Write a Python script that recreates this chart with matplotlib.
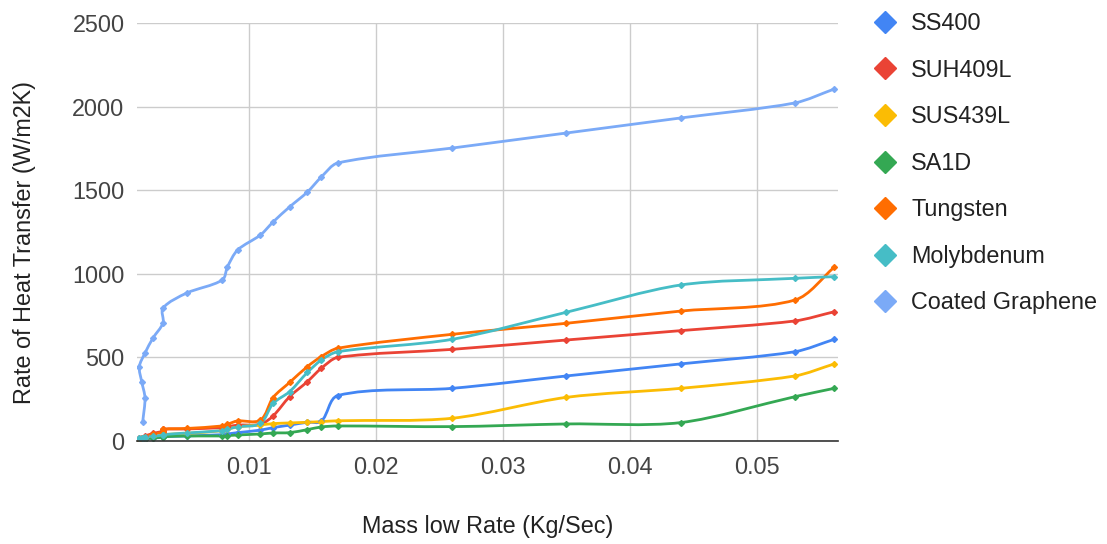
import numpy as np
import matplotlib
matplotlib.use("Agg")
import matplotlib.pyplot as plt
from matplotlib.path import Path
from matplotlib.patches import PathPatch
from matplotlib.lines import Line2D

plt.rcParams['font.family'] = ['Liberation Sans', 'DejaVu Sans']

# Data (rows are in the sheet's order, x is not sorted)
mass_flow = [0.00163, 0.00181, 0.00155, 0.00136, 0.00181, 0.00244, 0.00323, 0.00323,
             0.0051, 0.0079, 0.0083, 0.0091, 0.0109, 0.0119, 0.0132, 0.0146,
             0.0157, 0.0170, 0.026, 0.035, 0.044, 0.053, 0.0561]

ss400 = [5, 10, 8, 5, 12, 18, 22, 25, 30, 38, 42, 50, 65, 80, 95, 112,
         118, 272, 315, 389, 461, 534, 608]
suh409l = [15, 25, 20, 15, 30, 45, 60, 70, 72, 80, 85, 95, 100, 150, 265, 355,
           435, 500, 548, 604, 660, 718, 773]
sus439l = [10, 15, 12, 10, 18, 25, 32, 38, 45, 62, 70, 85, 96, 104, 108, 112,
           116, 121, 136, 261, 315, 389, 461]
sa1d = [8, 12, 10, 8, 14, 18, 24, 26, 30, 30, 32, 36, 42, 48, 50, 68,
        84, 90, 86, 102, 110, 265, 315]
tungsten = [10, 20, 15, 10, 25, 40, 55, 70, 75, 90, 100, 120, 125, 260, 350, 445,
            505, 555, 638, 704, 777, 843, 1039]
molybdenum = [15, 20, 18, 15, 22, 28, 35, 38, 48, 62, 70, 85, 105, 225, 295, 410,
              484, 534, 608, 770, 933, 973, 983]
coated_graphene = [115, 257, 355, 444, 526, 616, 706, 795, 885, 963, 1041, 1142, 1232, 1310, 1400, 1489,
                   1579, 1663, 1752, 1842, 1932, 2022, 2105]

series_names = ['SS400', 'SUH409L', 'SUS439L', 'SA1D', 'Tungsten', 'Molybdenum', 'Coated Graphene']
series_values = [ss400, suh409l, sus439l, sa1d, tungsten, molybdenum, coated_graphene]
colors = ['#4285F4', '#EA4335', '#FBBC04', '#34A853', '#FF6D01', '#46BDC6', '#7BAAF7']

y_ticks = [0, 500, 1000, 1500, 2000, 2500]
x_ticks = [0.01, 0.02, 0.03, 0.04, 0.05]

fs = 16.8

fig = plt.figure(figsize=(11.07, 5.44), dpi=100)
ax = fig.add_axes([137 / 1107, 1 - 441 / 544, 701 / 1107, 418 / 544])
ax.set_xlim(0.00118, 0.0564)
ax.set_ylim(0, 2500)


# smooth line through the points, tangents worked out in screen space
def smooth_path(xs, ys, k=0.3):
    pts = ax.transData.transform(np.column_stack([xs, ys]))
    n = len(pts)
    tang = []
    for i in range(n):
        d = pts[min(i + 1, n - 1)] - pts[max(i - 1, 0)]
        L = np.hypot(d[0], d[1])
        tang.append(d / L if L > 0 else np.zeros(2))
    verts = [pts[0]]
    codes = [Path.MOVETO]
    for i in range(n - 1):
        L = np.hypot(*(pts[i + 1] - pts[i]))
        verts += [pts[i] + tang[i] * L * k, pts[i + 1] - tang[i + 1] * L * k, pts[i + 1]]
        codes += [Path.CURVE4] * 3
    verts = ax.transData.inverted().transform(np.array(verts))
    return Path(verts, codes)


for name, vals, col in zip(series_names, series_values, colors):
    patch = PathPatch(smooth_path(mass_flow, vals), facecolor='none', edgecolor=col,
                      lw=2.0, transform=ax.transData, capstyle='round', joinstyle='round')
    ax.add_patch(patch)
    ax.plot(mass_flow, vals, linestyle='none', marker='D', markersize=3, color=col)

ax.set_xticks(x_ticks)
ax.set_xticklabels(['%.2f' % v for v in x_ticks])
ax.set_yticks(y_ticks)
ax.grid(True, color='#cccccc', lw=1)
ax.set_axisbelow(True)
for s in ['top', 'right', 'left']:
    ax.spines[s].set_visible(False)
ax.spines['bottom'].set_color('#333333')
ax.spines['bottom'].set_linewidth(1.2)
ax.spines['bottom'].set_zorder(5)
ax.tick_params(axis='both', length=0, labelsize=fs, colors='#444444')
ax.tick_params(axis='y', pad=9)
ax.tick_params(axis='x', pad=11)

ax.set_ylabel('Rate of Heat Transfer (W/m2K)', fontsize=fs, color='#222222')
ax.yaxis.set_label_coords(-0.144, 0.476)
ax.set_xlabel('Mass low Rate (Kg/Sec)', fontsize=fs, color='#222222')
ax.xaxis.set_label_coords(0.5, -0.178)

handles = [Line2D([], [], linestyle='none', marker='D', markersize=11, color=c) for c in colors]
leg = fig.legend(handles, series_names, loc='upper left', bbox_to_anchor=(852 / 1107, 1 + 9 / 544),
                 frameon=False, fontsize=fs, labelspacing=1.01, handlelength=1.0, handletextpad=0.64)
for t in leg.get_texts():
    t.set_color('#222222')

fig.savefig('out.png', dpi=100)
